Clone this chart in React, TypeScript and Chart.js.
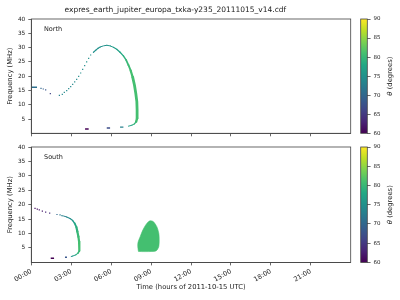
import React, { useEffect, useRef } from "react";
import { Chart, registerables } from "chart.js";

Chart.register(...registerables);

// ---------- text / ticks ----------
const TITLE = "expres_earth_jupiter_europa_txka-y235_20111015_v14.cdf";
const X_TITLE = "Time (hours of 2011-10-15 UTC)";
const Y_TITLE = "Frequency (MHz)";
const CB_TITLE_SYM = "θ";
const CB_TITLE_REST = " (degrees)";
const X_TICKS = [0, 3, 6, 9, 12, 15, 18, 21];
const X_TICK_LABELS = ["00:00", "03:00", "06:00", "09:00", "12:00", "15:00", "18:00", "21:00"];
const Y_TICKS = [5, 10, 15, 20, 25, 30, 35, 40];
const CB_TICKS = [60, 65, 70, 75, 80, 85, 90];
const CB_RANGE: [number, number] = [60, 90];

// ---------- North hemisphere ----------
const northDotHours = [0.73, 0.9, 1.08, 1.43, 2.11, 2.33, 2.48, 2.66, 2.81, 2.96, 3.11, 3.26, 3.41, 3.56, 3.71, 3.86, 4.01, 4.16, 4.31, 4.46];
const northDotFreq = [15.75, 15.5, 15.2, 13.9, 13.3, 13.65, 14.35, 14.9, 15.6, 16.3, 17.15, 17.97, 18.9, 19.95, 21.1, 22.4, 23.7, 25.0, 26.25, 27.4];
const northDotTheta = [70, 69, 68, 66, 73, 74, 74, 74, 74, 74, 74, 74, 74, 74.5, 74.5, 74.5, 74.5, 75, 75, 75];

const northArcHours = [4.67, 4.87, 5.02, 5.17, 5.42, 5.67, 5.92, 6.17, 6.42, 6.67, 6.92, 7.12, 7.3, 7.47, 7.62, 7.75, 7.85, 7.93, 7.95, 7.95, 7.88, 7.75, 7.55, 7.3];
const northArcFreq = [28.35, 29.2, 29.75, 30.2, 30.6, 30.8, 30.6, 30.1, 29.4, 28.35, 27.1, 25.7, 23.9, 21.9, 19.6, 16.9, 14.0, 11.1, 8.2, 5.25, 4.1, 3.3, 2.8, 2.5];
const northArcTheta = [75, 75, 75, 75, 75, 75.5, 76, 76.5, 77, 78, 79, 80, 80.5, 81, 81, 81, 81, 81, 81, 81, 80, 79, 77, 76];

const northSegStart = [0, 4.04, 5.67, 6.67];
const northSegEnd = [0.43, 4.31, 5.92, 6.92];
const northSegFreq = [16.1, 1.5, 1.85, 2.15];
const northSegTheta = [71, 60, 67, 73];

// ---------- South hemisphere ----------
const southDotHours = [0.28, 0.45, 0.6, 0.83, 1.08, 1.38, 1.93, 2.16];
const southDotFreq = [18.7, 18.45, 18.2, 17.8, 17.45, 17.05, 16.6, 16.45];
const southDotTheta = [61, 61, 62, 62, 63, 64, 70, 72];

const southArcHours = [2.26, 2.41, 2.66, 2.91, 3.11, 3.26, 3.39, 3.46, 3.54, 3.59, 3.61, 3.61, 3.51, 3.34, 3.11, 3.0];
const southArcFreq = [16.2, 16.1, 15.75, 15.2, 14.5, 13.55, 12.2, 10.7, 8.9, 7.2, 5.5, 4.0, 3.2, 2.6, 2.2, 2.05];
const southArcTheta = [73, 73, 74, 75, 76, 78, 79, 80, 80.5, 81, 81, 80, 79, 77, 75, 74];

const southSegStart = [1.46, 2.53];
const southSegEnd = [1.71, 2.68];
const southSegFreq = [1.45, 1.77];
const southSegTheta = [60, 68];

const southBlobHours = [8.05, 8.0, 8.02, 8.18, 8.38, 8.6, 8.8, 8.93, 9.05, 9.18, 9.43, 9.58, 9.61, 9.58, 9.45, 9.31, 8.8, 8.3, 8.05];
const southBlobFreq = [3.8, 5.5, 7.0, 8.9, 11.2, 13.0, 14.1, 14.4, 14.35, 14.1, 12.4, 10.1, 7.8, 5.5, 4.3, 3.9, 3.75, 3.75, 3.8];
const southBlobTheta = 81;

// ---------- colour map ----------
const VIRIDIS = ["#440154", "#482475", "#414487", "#355f8d", "#2a788e", "#21918c", "#22a884", "#44bf70", "#7ad151", "#bddf26", "#fde725"];
function hex(c: string) {
  return [parseInt(c.slice(1, 3), 16), parseInt(c.slice(3, 5), 16), parseInt(c.slice(5, 7), 16)];
}
function viridis(theta: number) {
  let t = (theta - CB_RANGE[0]) / (CB_RANGE[1] - CB_RANGE[0]);
  t = Math.max(0, Math.min(1, t));
  const idx = t * (VIRIDIS.length - 1);
  const i = Math.min(VIRIDIS.length - 2, Math.floor(idx));
  const f = idx - i;
  const a = hex(VIRIDIS[i]);
  const b = hex(VIRIDIS[i + 1]);
  const m = a.map((v, k) => Math.round(v + (b[k] - v) * f));
  return `rgb(${m[0]},${m[1]},${m[2]})`;
}

const FONT = "DejaVu Sans";
const AXIS_COLOR = "#444";
const TEXT_COLOR = "#222";

// ---------- dataset builders ----------
function dots(hours: number[], freq: number[], theta: number[]) {
  return {
    data: hours.map((h, i) => ({ x: h, y: freq[i] })),
    showLine: false,
    pointStyle: "rect",
    pointRadius: 0.85,
    pointBorderWidth: 0,
    pointBackgroundColor: theta.map(viridis),
  };
}
function arc(hours: number[], freq: number[], theta: number[], maxW: number) {
  return {
    data: hours.map((h, i) => ({ x: h, y: freq[i] })),
    showLine: true,
    pointRadius: 0,
    borderColor: viridis(theta[0]),
    borderWidth: 1.0,
    borderCapStyle: "round",
    borderJoinStyle: "round",
    fill: false,
    segment: {
      borderColor: (ctx: any) => viridis(theta[ctx.p0DataIndex]),
      borderWidth: (ctx: any) => {
        const dx = Math.abs(ctx.p1.x - ctx.p0.x) || 0.01;
        const dy = Math.abs(ctx.p1.y - ctx.p0.y);
        return Math.max(1.0, Math.min(maxW, 0.8 + 0.45 * (dy / dx)));
      },
    },
  };
}
function segs(start: number[], end: number[], freq: number[], theta: number[]) {
  return start.map((s, i) => ({
    data: [
      { x: s, y: freq[i] },
      { x: end[i], y: freq[i] },
    ],
    showLine: true,
    pointRadius: 0,
    borderColor: viridis(theta[i]),
    borderWidth: 1.4,
    fill: false,
  }));
}
function blob(hours: number[], freq: number[], theta: number) {
  return {
    data: hours.map((h, i) => ({ x: h, y: freq[i] })),
    showLine: true,
    pointRadius: 0,
    tension: 0.3,
    borderColor: viridis(theta),
    backgroundColor: viridis(theta),
    borderWidth: 0.6,
    fill: "shape",
  };
}

// ---------- plugins ----------
function framePlugin(label: string) {
  return {
    id: "frame_" + label,
    afterDraw(chart: any) {
      const { ctx, chartArea: a } = chart;
      ctx.save();
      ctx.strokeStyle = AXIS_COLOR;
      ctx.lineWidth = 0.8;
      ctx.strokeRect(a.left, a.top, a.right - a.left, a.bottom - a.top);
      if (label) {
        ctx.fillStyle = TEXT_COLOR;
        ctx.font = `6.5px "${FONT}"`;
        ctx.textBaseline = "middle";
        ctx.textAlign = "left";
        ctx.fillText(label, a.left + 12.7, a.top + 10.8);
      }
      ctx.restore();
    },
  };
}
const cbTitlePlugin = {
  id: "cbTitle",
  afterDraw(chart: any) {
    const { ctx, chartArea: a } = chart;
    ctx.save();
    ctx.fillStyle = TEXT_COLOR;
    const symFont = `italic 6.8px "${FONT}"`;
    const restFont = `6.8px "${FONT}"`;
    ctx.font = symFont;
    const w1 = ctx.measureText(CB_TITLE_SYM).width;
    ctx.font = restFont;
    const w2 = ctx.measureText(CB_TITLE_REST).width;
    const cx = 35;
    const cy = (a.top + a.bottom) / 2;
    ctx.translate(cx, cy);
    ctx.rotate(-Math.PI / 2);
    ctx.textBaseline = "middle";
    ctx.textAlign = "left";
    const x0 = -(w1 + w2) / 2;
    ctx.font = symFont;
    ctx.fillText(CB_TITLE_SYM, x0, 0);
    ctx.font = restFont;
    ctx.fillText(CB_TITLE_REST, x0 + w1, 0);
    ctx.restore();
  },
};

// ---------- chart configs ----------
function mainConfig(opts: {
  datasets: any[];
  label: string;
  showTitle: boolean;
  showXLabels: boolean;
  padTop: number;
  xHeight: number;
}) {
  return {
    type: "scatter",
    data: { datasets: opts.datasets },
    options: {
      responsive: false,
      animation: false,
      events: [],
      layout: { padding: { left: 0, right: 49.3, top: opts.padTop, bottom: 0 } },
      plugins: {
        legend: { display: false },
        tooltip: { enabled: false },
        title: {
          display: opts.showTitle,
          text: TITLE,
          color: TEXT_COLOR,
          font: { family: FONT, size: 7.5, weight: "normal" },
          padding: { top: 5.5, bottom: 4.5 },
        },
      },
      scales: {
        x: {
          type: "linear",
          min: 0,
          max: 24,
          afterBuildTicks: (s: any) => {
            s.ticks = X_TICKS.map((v) => ({ value: v }));
          },
          afterFit: (s: any) => {
            s.height = opts.xHeight;
          },
          ticks: {
            display: opts.showXLabels,
            callback: (_v: any, i: number) => X_TICK_LABELS[i],
            minRotation: 30,
            maxRotation: 30,
            padding: 2,
            color: TEXT_COLOR,
            font: { family: FONT, size: 6.6 },
          },
          grid: { drawOnChartArea: false, drawTicks: true, tickLength: 3, color: AXIS_COLOR, lineWidth: 0.8 },
          border: { color: AXIS_COLOR, width: 0.8 },
          title: {
            display: opts.showXLabels,
            text: X_TITLE,
            color: TEXT_COLOR,
            font: { family: FONT, size: 6.8 },
            padding: { top: 0, bottom: 8.9 },
          },
        },
        y: {
          type: "linear",
          min: 0,
          max: 40,
          afterBuildTicks: (s: any) => {
            s.ticks = Y_TICKS.map((v) => ({ value: v }));
          },
          afterFit: (s: any) => {
            s.width = 31.3;
          },
          ticks: {
            padding: 3,
            color: TEXT_COLOR,
            font: { family: FONT, size: 5.8 },
          },
          grid: { drawOnChartArea: false, drawTicks: true, tickLength: 3, color: AXIS_COLOR, lineWidth: 0.8 },
          border: { color: AXIS_COLOR, width: 0.8 },
          title: {
            display: true,
            text: Y_TITLE,
            color: TEXT_COLOR,
            font: { family: FONT, size: 6.8 },
            padding: { top: 5.9, bottom: 0 },
          },
        },
      },
    },
    plugins: [framePlugin(opts.label)],
  };
}

function cbConfig(padTop: number, padBottom: number) {
  return {
    type: "bar",
    data: {
      labels: ["θ"],
      datasets: [
        {
          data: [CB_RANGE],
          barPercentage: 1,
          categoryPercentage: 1,
          borderWidth: 0,
          backgroundColor: (ctx: any) => {
            const a = ctx.chart.chartArea;
            if (!a) return VIRIDIS[0];
            const g = ctx.chart.ctx.createLinearGradient(0, a.bottom, 0, a.top);
            VIRIDIS.forEach((c, i) => g.addColorStop(i / (VIRIDIS.length - 1), c));
            return g;
          },
        },
      ],
    },
    options: {
      responsive: false,
      animation: false,
      events: [],
      layout: { padding: { left: 5.7, right: 0, top: padTop, bottom: padBottom } },
      plugins: { legend: { display: false }, tooltip: { enabled: false } },
      scales: {
        x: { display: false },
        y: {
          position: "right",
          min: CB_RANGE[0],
          max: CB_RANGE[1],
          afterBuildTicks: (s: any) => {
            s.ticks = CB_TICKS.map((v) => ({ value: v }));
          },
          afterFit: (s: any) => {
            s.width = 32.7;
          },
          ticks: { padding: 3, color: TEXT_COLOR, font: { family: FONT, size: 5.5 } },
          grid: { drawOnChartArea: false, drawTicks: true, tickLength: 3.3, color: AXIS_COLOR, lineWidth: 0.8 },
          border: { display: false },
        },
      },
    },
    plugins: [framePlugin(""), cbTitlePlugin],
  };
}

export default function App() {
  const topRef = useRef<HTMLCanvasElement>(null);
  const botRef = useRef<HTMLCanvasElement>(null);
  const cbTopRef = useRef<HTMLCanvasElement>(null);
  const cbBotRef = useRef<HTMLCanvasElement>(null);

  useEffect(() => {
    const charts: Chart[] = [];
    const northDatasets = [
      dots(northDotHours, northDotFreq, northDotTheta),
      arc(northArcHours, northArcFreq, northArcTheta, 2.8),
      ...segs(northSegStart, northSegEnd, northSegFreq, northSegTheta),
    ];
    const southDatasets = [
      blob(southBlobHours, southBlobFreq, southBlobTheta),
      dots(southDotHours, southDotFreq, southDotTheta),
      arc(southArcHours, southArcFreq, southArcTheta, 2.2),
      ...segs(southSegStart, southSegEnd, southSegFreq, southSegTheta),
    ];
    charts.push(
      new Chart(
        topRef.current!,
        mainConfig({ datasets: northDatasets, label: "North", showTitle: true, showXLabels: false, padTop: 0, xHeight: 16.7 }) as any
      )
    );
    charts.push(
      new Chart(
        botRef.current!,
        mainConfig({ datasets: southDatasets, label: "South", showTitle: false, showXLabels: true, padTop: 7, xHeight: 37.6 }) as any
      )
    );
    charts.push(new Chart(cbTopRef.current!, cbConfig(19, 16.7) as any));
    charts.push(new Chart(cbBotRef.current!, cbConfig(7, 37.6) as any));
    return () => charts.forEach((c) => c.destroy());
  }, []);

  const abs = (left: number, top: number): React.CSSProperties => ({ position: "absolute", left, top, display: "block" });

  return (
    <div style={{ position: "fixed", left: 0, top: 0, width: 400, height: 300, background: "#fff", overflow: "hidden" }}>
      <canvas ref={topRef} width={400} height={150} style={abs(0, 0)} />
      <canvas ref={botRef} width={400} height={160} style={abs(0, 140)} />
      <canvas ref={cbTopRef} width={45} height={150} style={abs(355, 0)} />
      <canvas ref={cbBotRef} width={45} height={160} style={abs(355, 140)} />
    </div>
  );
}
